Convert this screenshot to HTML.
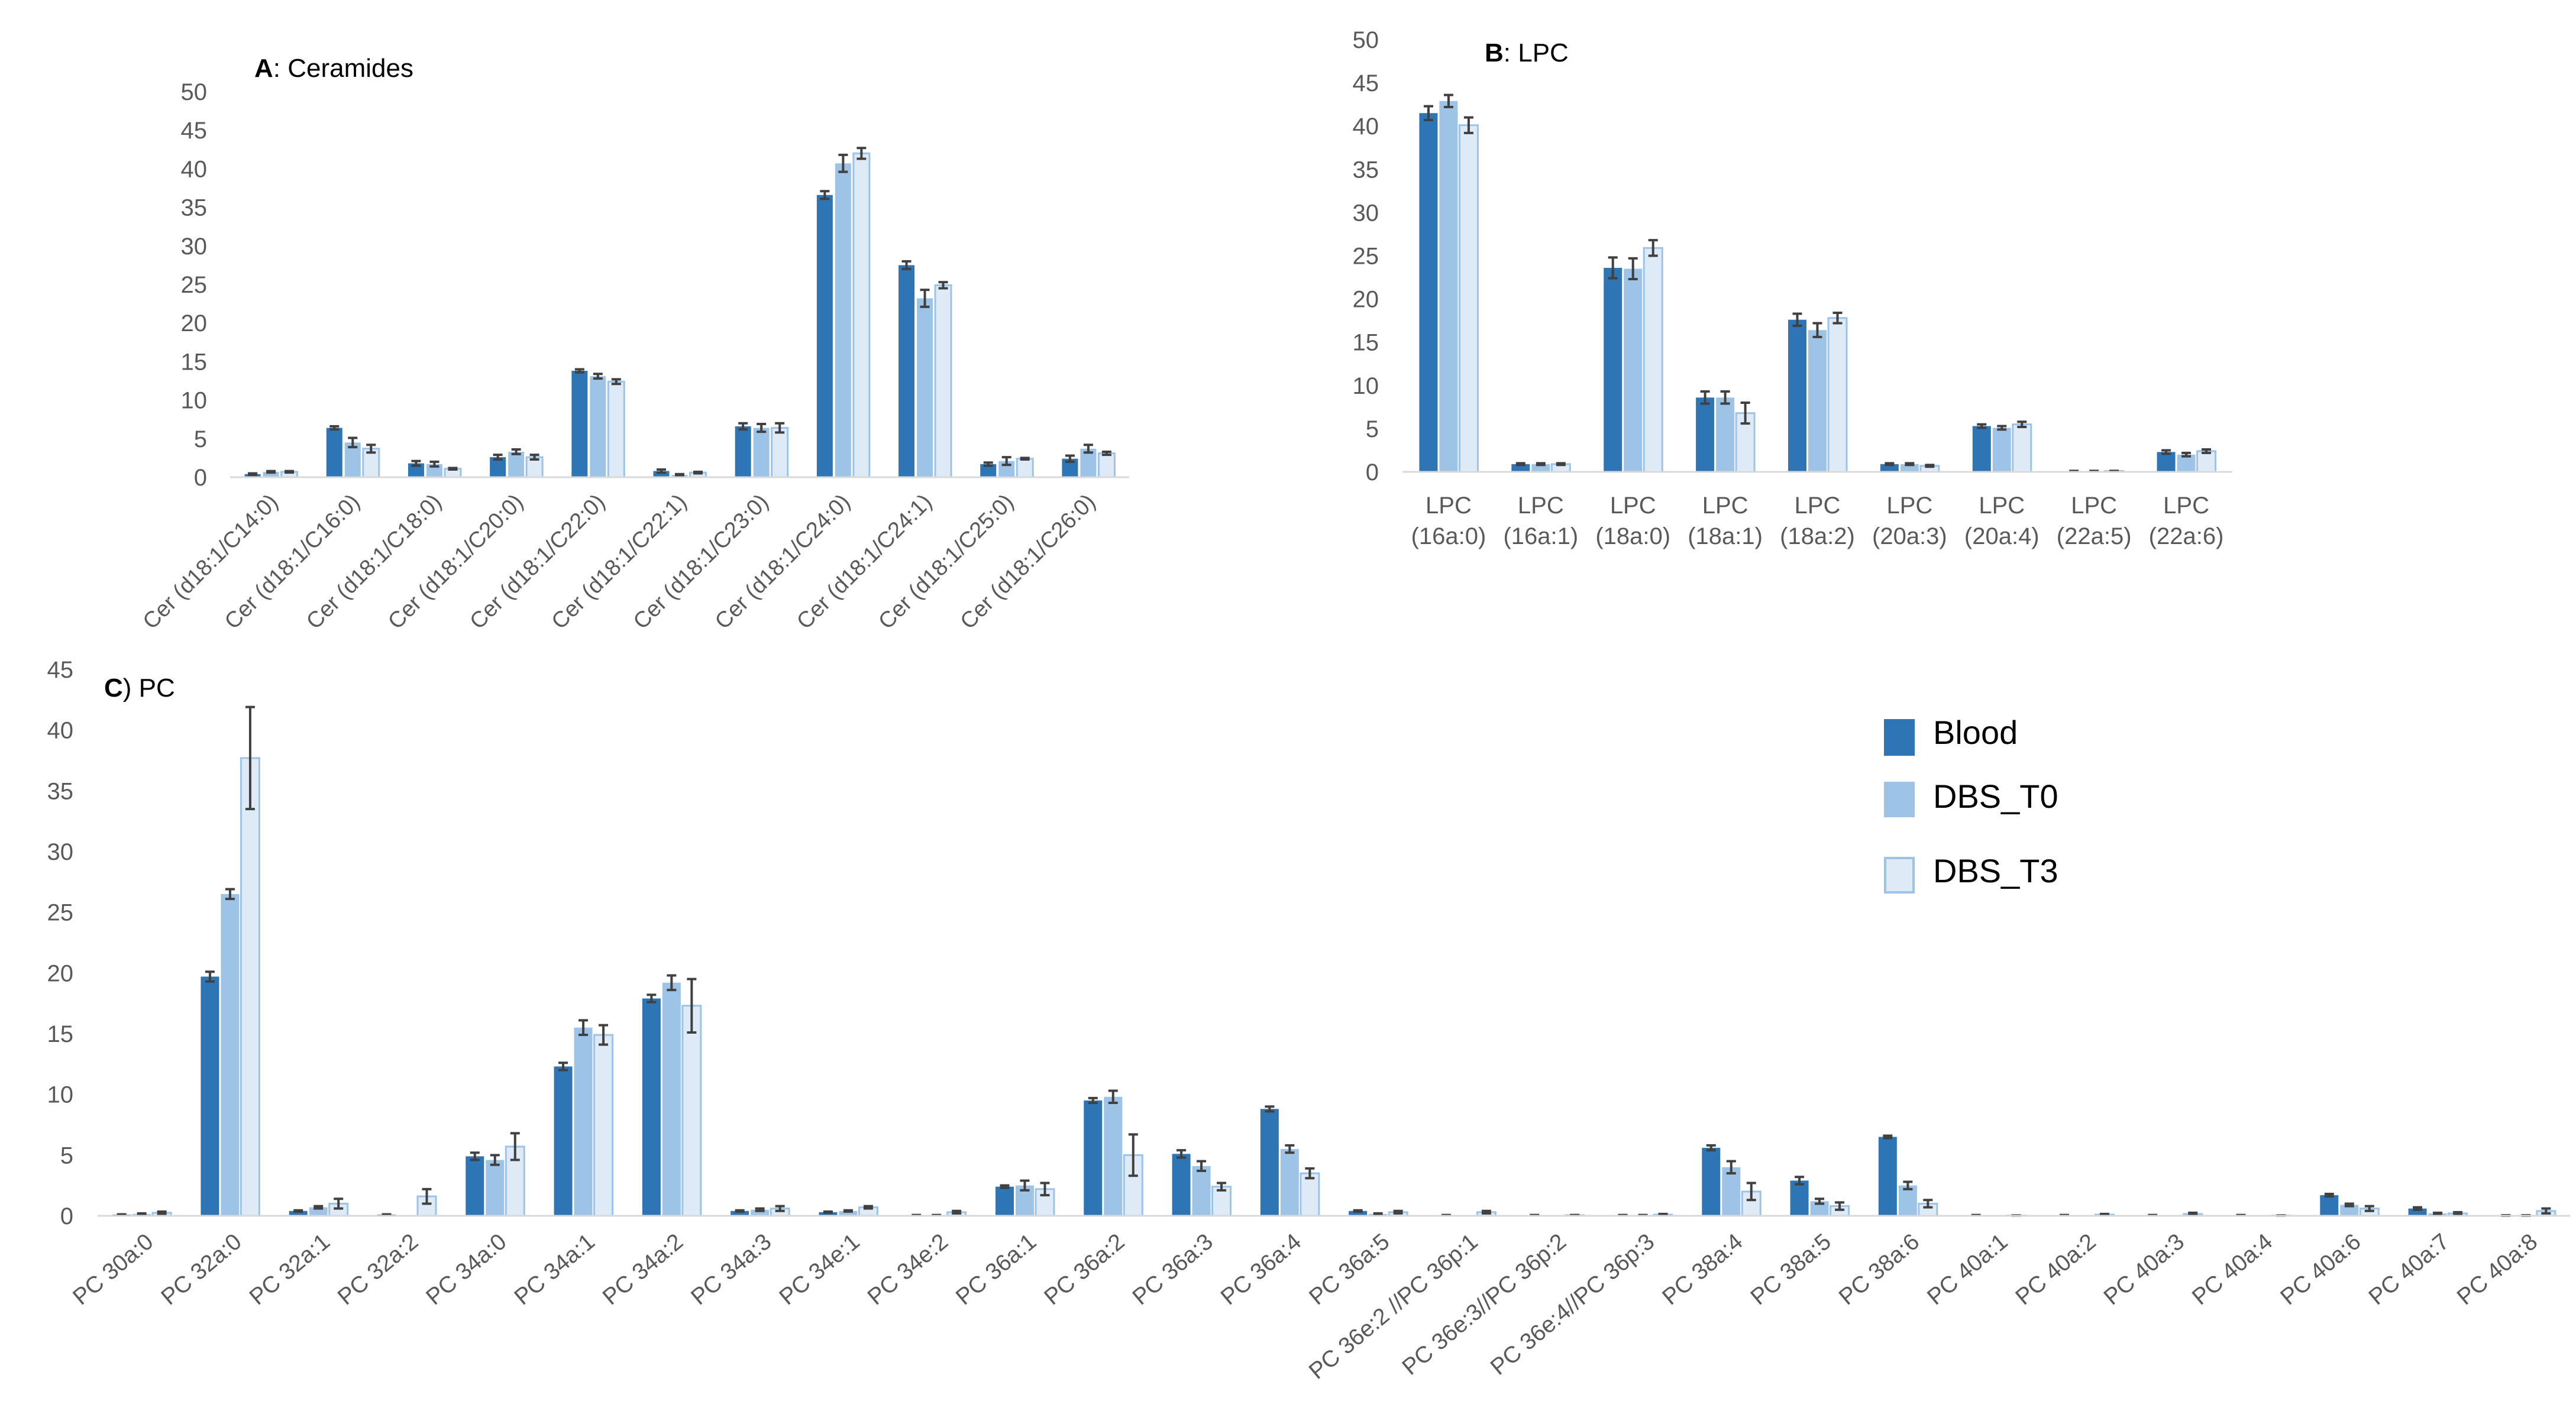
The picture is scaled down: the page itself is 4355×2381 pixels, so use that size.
<!DOCTYPE html>
<html><head><meta charset="utf-8"><style>
html,body{margin:0;padding:0;background:#fff;}
svg{display:block;font-family:"Liberation Sans",sans-serif;}
</style></head><body>
<svg id="fig" width="4355" height="2381" viewBox="0 0 4355 2381" xmlns="http://www.w3.org/2000/svg">
<rect width="4355" height="2381" fill="#fff"/>
<text x="430" y="130" font-size="44" fill="#000"><tspan font-weight="bold">A</tspan>: Ceramides</text>
<text x="2510" y="104" font-size="44" fill="#000"><tspan font-weight="bold">B</tspan>: LPC</text>
<text x="176" y="1178" font-size="44" fill="#000"><tspan font-weight="bold">C</tspan>) PC</text>
<g>
<rect x="3185" y="1216" width="52" height="62" fill="#2E75B6"/>
<text x="3268" y="1258" font-size="56" fill="#000">Blood</text>
<rect x="3185" y="1322" width="52" height="60" fill="#9DC3E6"/>
<text x="3268" y="1366" font-size="56" fill="#000">DBS_T0</text>
<rect x="3187" y="1451" width="48" height="58" fill="#DEEBF7" stroke="#9DC3E6" stroke-width="4"/>
<text x="3268" y="1492" font-size="56" fill="#000">DBS_T3</text>
</g>
</svg>
<script>
// ---- Chart A: Ceramides ----
const catsA = ["Cer (d18:1/C14:0)","Cer (d18:1/C16:0)","Cer (d18:1/C18:0)","Cer (d18:1/C20:0)","Cer (d18:1/C22:0)","Cer (d18:1/C22:1)","Cer (d18:1/C23:0)","Cer (d18:1/C24:0)","Cer (d18:1/C24:1)","Cer (d18:1/C25:0)","Cer (d18:1/C26:0)"];
const bloodA = [0.4,6.4,1.8,2.6,13.8,0.8,6.6,36.6,27.5,1.7,2.4];
const t0A = [0.7,4.5,1.7,3.3,13.1,0.3,6.4,40.7,23.2,2.1,3.7];
const t3A = [0.7,3.7,1.1,2.6,12.4,0.6,6.4,42.0,24.9,2.4,3.1];
const bloodErrA = [0.1,0.2,0.3,0.3,0.2,0.2,0.4,0.5,0.5,0.2,0.4];
const t0ErrA = [0.1,0.6,0.3,0.3,0.3,0.1,0.5,1.1,1.1,0.5,0.5];
const t3ErrA = [0.1,0.5,0.1,0.3,0.3,0.1,0.6,0.7,0.4,0.1,0.2];
const ticksA = [0,5,10,15,20,25,30,35,40,45,50];
// ---- Chart B: LPC ----
const catsB = ["16a:0","16a:1","18a:0","18a:1","18a:2","20a:3","20a:4","22a:5","22a:6"];
const bloodB = [41.5,0.9,23.6,8.6,17.6,0.9,5.3,0.1,2.3];
const t0B = [42.9,0.9,23.5,8.6,16.4,0.9,5.1,0.1,2.0];
const t3B = [40.1,0.9,25.9,6.8,17.8,0.7,5.5,0.1,2.4];
const bloodErrB = [0.8,0.1,1.2,0.7,0.7,0.1,0.2,0.02,0.2];
const t0ErrB = [0.7,0.1,1.2,0.7,0.8,0.1,0.2,0.02,0.2];
const t3ErrB = [0.9,0.1,0.9,1.2,0.6,0.1,0.3,0.02,0.2];
const ticksB = [0,5,10,15,20,25,30,35,40,45,50];
// ---- Chart C: PC ----
const catsC = ["PC 30a:0","PC 32a:0","PC 32a:1","PC 32a:2","PC 34a:0","PC 34a:1","PC 34a:2","PC 34a:3","PC 34e:1","PC 34e:2","PC 36a:1","PC 36a:2","PC 36a:3","PC 36a:4","PC 36a:5","PC 36e:2 //PC 36p:1","PC 36e:3//PC 36p:2","PC 36e:4//PC 36p:3","PC 38a:4","PC 38a:5","PC 38a:6","PC 40a:1","PC 40a:2","PC 40a:3","PC 40a:4","PC 40a:6","PC 40a:7","PC 40a:8"];
const bloodC = [0.1,19.7,0.4,0.1,4.9,12.3,17.9,0.4,0.3,0.05,2.4,9.5,5.1,8.8,0.4,0.05,0.05,0.05,5.6,2.9,6.5,0.05,0.05,0.05,0.05,1.7,0.6,0.02];
const t0C = [0.15,26.5,0.7,0,4.6,15.5,19.2,0.5,0.4,0.05,2.5,9.8,4.1,5.5,0.15,0,0,0.05,4.0,1.2,2.5,0,0,0,0,0.9,0.2,0.02];
const t3C = [0.25,37.7,1.0,1.6,5.7,14.9,17.3,0.6,0.7,0.3,2.2,5.0,2.4,3.5,0.3,0.3,0.05,0.1,2.0,0.8,1.0,0.02,0.1,0.15,0.02,0.6,0.2,0.4];
const bloodErrC = [0.02,0.4,0.05,0.02,0.3,0.3,0.3,0.05,0.05,0.02,0.1,0.2,0.3,0.2,0.05,0.02,0.02,0.02,0.2,0.3,0.1,0.02,0.02,0.02,0.02,0.1,0.1,0.02];
const t0ErrC = [0.05,0.4,0.1,0,0.4,0.6,0.6,0.1,0.05,0.02,0.4,0.5,0.4,0.3,0.05,0,0,0.02,0.5,0.2,0.3,0,0,0,0,0.1,0.05,0.02];
const t3ErrC = [0.1,4.2,0.4,0.6,1.1,0.8,2.2,0.2,0.1,0.1,0.5,1.7,0.3,0.4,0.1,0.1,0.02,0.05,0.7,0.3,0.3,0.01,0.05,0.1,0.01,0.2,0.1,0.2];
const ticksC = [0,5,10,15,20,25,30,35,40,45];

const NS = "http://www.w3.org/2000/svg";
const svg = document.getElementById("fig");
const COLORS = ["#2E75B6","#9DC3E6","#DEEBF7"];
const SNAMES = ["blood","dbs-t0","dbs-t3"];
function mk(tag, attrs){ const e=document.createElementNS(NS,tag); for(const k in attrs) e.setAttribute(k,attrs[k]); return e; }

function drawChart(c){
  const g = mk("g",{});
  
  
  svg.appendChild(g);
  const yScale = v => c.y0 - (v - 0) / c.yMax * (c.y0 - c.yTop);
  const n = c.cats.length;
  const band = (c.x1 - c.x0) / n;
  const xCenter = i => c.x0 + band * (i + 0.5);
  c.ticks.forEach(t => {
    const tx = mk("text",{x:c.tickX, y:yScale(t)+14, "font-size":40, fill:"#595959", "text-anchor":"end"});
    
    
    tx.textContent = t;
    g.appendChild(tx);
  });
  const series = [c.s0, c.s1, c.s2];
  const errs = [c.e0, c.e1, c.e2];
  for(let i=0;i<n;i++){
    const cx = xCenter(i);
    for(let s=0;s<3;s++){
      const v = series[s][i];
      const bx = cx + (s-1)*(c.bw+c.gap) - c.bw/2;
      const yv = yScale(v);
      const r = mk("rect",{x:bx, y:yv, width:c.bw, height:Math.max(0,c.y0-yv), fill:COLORS[s]});
      if(s===2){ r.setAttribute("stroke","#9DC3E6"); r.setAttribute("stroke-width","3"); }
      
      
      g.appendChild(r);
      const e = errs[s][i];
      if(v>0 || e>0){
        const ex = bx + c.bw/2;
        const ya = yScale(v+e), yb = yScale(Math.max(0,v-e));
        const eg = mk("path",{d:`M${ex},${ya}V${yb}M${ex-8},${ya}H${ex+8}M${ex-8},${yb}H${ex+8}`, stroke:"#404040", "stroke-width":4, fill:"none"});
        
        
        g.appendChild(eg);
      }
    }
    if(c.twoLine){
      const t1 = mk("text",{x:cx, y:c.y0+70, "font-size":40, fill:"#595959", "text-anchor":"middle"});
      
      
      t1.textContent = "LPC";
      g.appendChild(t1);
      const t2 = mk("text",{x:cx, y:c.y0+122, "font-size":40, fill:"#595959", "text-anchor":"middle"});
      
      
      t2.textContent = "(" + c.cats[i] + ")";
      g.appendChild(t2);
    } else {
      const lx = cx + c.lblDx, ly = c.y0 + c.lblDy;
      const t = mk("text",{x:lx, y:ly, "font-size":c.lblSize, fill:"#595959", "text-anchor":"end", transform:`rotate(${c.angle} ${lx} ${ly})`});
      
      
      t.textContent = c.cats[i];
      g.appendChild(t);
    }
  }
  const ax = mk("line",{x1:c.x0, x2:c.x1, y1:c.y0, y2:c.y0, stroke:"#D9D9D9", "stroke-width":3});
  
  
  g.appendChild(ax);
}

drawChart({id:"chart-a-ceramides", cats:catsA, s0:bloodA, s1:t0A, s2:t3A, e0:bloodErrA, e1:t0ErrA, e2:t3ErrA, ticks:ticksA,
  x0:389, x1:1909, y0:807, yTop:155, yMax:50, tickX:350, bw:27, gap:4, angle:-45, lblDx:14, lblDy:44, lblSize:38});
drawChart({id:"chart-b-lpc", cats:catsB, s0:bloodB, s1:t0B, s2:t3B, e0:bloodErrB, e1:t0ErrB, e2:t3ErrB, ticks:ticksB,
  x0:2371, x1:3774, y0:798, yTop:67, yMax:50, tickX:2331, bw:31, gap:3, twoLine:true});
drawChart({id:"chart-c-pc", cats:catsC, s0:bloodC, s1:t0C, s2:t3C, e0:bloodErrC, e1:t0ErrC, e2:t3ErrC, ticks:ticksC,
  x0:165, x1:4345, y0:2056, yTop:1132, yMax:45, tickX:124, bw:31, gap:3, angle:-40, lblDx:22, lblDy:48, lblSize:39});
</script>
</body></html>
